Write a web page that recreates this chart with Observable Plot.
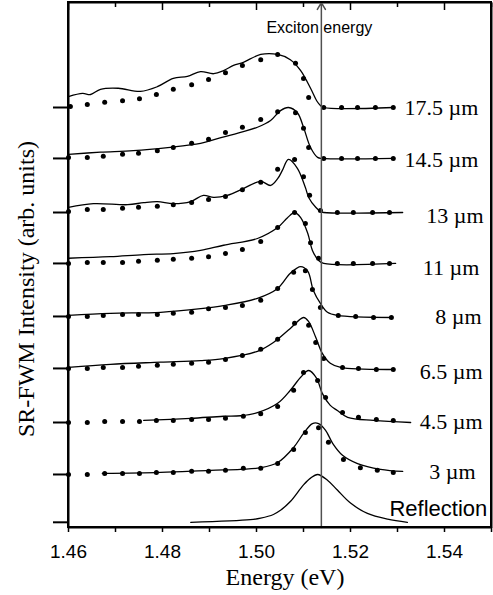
<!DOCTYPE html>
<html><head><meta charset="utf-8">
<script src="https://cdn.jsdelivr.net/npm/d3@7"></script>
<script src="https://cdn.jsdelivr.net/npm/@observablehq/plot@0.6"></script>
<style>body{margin:0;background:#fff} #chart{position:relative;width:493px;height:595px} #frameBox{position:absolute;box-sizing:border-box;border:2px solid #000;pointer-events:none}</style>
</head><body><div id="chart"></div>
<script>
// ---- data (energy in eV, intensity in arb. units above each curve's baseline) ----
const seriesNames = ["Reflection", "3 µm", "4.5 µm", "6.5 µm", "8 µm", "11 µm", "13 µm", "14.5 µm", "17.5 µm"];
const offsets = [0, 0.92, 1.92, 2.96, 3.96, 4.98, 5.96, 7.0, 7.98];
const labelX = [1.5491, 1.5466, 1.5481, 1.5481, 1.5479, 1.5474, 1.5483, 1.5472, 1.5472];
const labelY = [0.25, 0.96, 1.94, 2.9, 3.96, 4.9, 5.9, 6.98, 7.98];
const excitonEnergy = 1.5138;
const xMajorTicks = [1.46, 1.48, 1.50, 1.52, 1.54];
const xMinorTicks = [1.47, 1.49, 1.51, 1.53, 1.55];

// Reflection (solid only)
const lineE_R = [1.4860,1.4987,1.5009,1.5036,1.5051,1.5072,1.5100,1.5115,1.5130,1.5151,1.5172,1.5200,1.5236,1.5279,1.5321];
const lineI_R = [0,0.05,0.08,0.15,0.23,0.40,0.72,0.85,0.92,0.81,0.62,0.37,0.17,0.06,0];

// 3 µm
const lineE_3 = [1.4672,1.4796,1.4902,1.4966,1.5009,1.5045,1.5079,1.5100,1.5119,1.5132,1.5147,1.5162,1.5183,1.5215,1.5264,1.5311];
const lineI_3 = [0.02,0.04,0.08,0.10,0.13,0.23,0.52,0.79,0.98,0.98,0.85,0.60,0.37,0.21,0.10,0.06];
const dotE_3 = [1.4600,1.4640,1.4677,1.4715,1.4751,1.4787,1.4823,1.4862,1.4898,1.4934,1.4972,1.5009,1.5045,1.5079,1.5104,1.5132,1.5153,1.5185,1.5221,1.5257,1.5291];
const dotI_3 = [0,0,0.02,0.02,0.02,0.04,0.04,0.06,0.06,0.08,0.12,0.12,0.21,0.48,0.81,0.90,0.62,0.29,0.13,0.08,0.04];

// 4.5 µm
const lineE_45 = [1.4760,1.4860,1.4930,1.4966,1.5002,1.5045,1.5072,1.5094,1.5111,1.5128,1.5140,1.5157,1.5172,1.5194,1.5249,1.5328];
const lineI_45 = [0.04,0.08,0.12,0.13,0.19,0.37,0.62,0.87,1.0,0.85,0.56,0.33,0.23,0.10,0.04,0];
const dotE_45 = [1.4600,1.4640,1.4677,1.4715,1.4751,1.4787,1.4823,1.4862,1.4898,1.4934,1.4972,1.5009,1.5045,1.5079,1.5100,1.5130,1.5147,1.5183,1.5217,1.5255,1.5291];
const dotI_45 = [0,0,0.02,0.02,0.02,0.04,0.04,0.06,0.06,0.08,0.12,0.17,0.31,0.62,0.96,0.81,0.48,0.19,0.10,0.06,0.04];

// 6.5 µm
const lineE_65 = [1.4600,1.4689,1.4796,1.4881,1.4930,1.5002,1.5036,1.5072,1.5100,1.5111,1.5126,1.5140,1.5157,1.5179,1.5291];
const lineI_65 = [0.02,0.08,0.12,0.15,0.19,0.33,0.50,0.77,0.98,0.90,0.60,0.29,0.10,0.02,-0.02];
const dotE_65 = [1.4600,1.4640,1.4674,1.4715,1.4749,1.4789,1.4823,1.4862,1.4898,1.4934,1.4970,1.5009,1.5045,1.5081,1.5111,1.5126,1.5143,1.5183,1.5217,1.5255,1.5291];
const dotI_65 = [0,0,0.02,0.02,0.04,0.06,0.08,0.10,0.12,0.17,0.25,0.37,0.56,0.87,0.83,0.50,0.19,0.02,0,-0.02,-0.02];

// 8 µm
const lineE_8 = [1.4600,1.4689,1.4796,1.4881,1.4930,1.5002,1.5045,1.5072,1.5094,1.5109,1.5121,1.5136,1.5151,1.5172,1.5289];
const lineI_8 = [0.02,0.06,0.08,0.15,0.21,0.35,0.54,0.83,0.96,0.87,0.50,0.25,0.08,0.02,-0.02];
const dotE_8 = [1.4600,1.4640,1.4674,1.4715,1.4749,1.4789,1.4823,1.4862,1.4898,1.4934,1.4970,1.5009,1.5045,1.5079,1.5104,1.5119,1.5136,1.5174,1.5211,1.5249,1.5287];
const dotI_8 = [0,0,0.02,0.04,0.04,0.04,0.06,0.08,0.15,0.17,0.21,0.31,0.54,0.85,0.88,0.52,0.17,0.02,0,-0.02,-0.02];

// 11 µm
const lineE_11 = [1.4600,1.4689,1.4760,1.4823,1.4881,1.4930,1.5002,1.5045,1.5066,1.5081,1.5094,1.5109,1.5119,1.5132,1.5143,1.5296];
const lineI_11 = [0.10,0.13,0.17,0.19,0.25,0.35,0.48,0.69,0.88,0.98,0.88,0.58,0.25,0.06,0,0];
const dotE_11 = [1.4600,1.4640,1.4674,1.4715,1.4749,1.4789,1.4823,1.4862,1.4898,1.4934,1.4970,1.5009,1.5045,1.5081,1.5104,1.5115,1.5132,1.5172,1.5206,1.5247,1.5283];
const dotI_11 = [0,0.02,0.02,0.02,0.04,0.06,0.08,0.10,0.13,0.19,0.27,0.42,0.69,0.98,0.77,0.40,0.10,0,0,0,0];

// 13 µm
const lineE_13 = [1.4600,1.4653,1.4726,1.4760,1.4789,1.4823,1.4860,1.4887,1.4909,1.4938,1.4972,1.5009,1.5030,1.5045,1.5055,1.5068,1.5087,1.5104,1.5111,1.5126,1.5136,1.5143,1.5311];
const lineI_13 = [0.10,0.17,0.15,0.19,0.21,0.17,0.21,0.33,0.29,0.33,0.46,0.60,0.52,0.65,0.81,1.02,0.85,0.48,0.29,0.10,0.02,0,0];
const dotE_13 = [1.4600,1.4640,1.4674,1.4715,1.4749,1.4789,1.4823,1.4862,1.4898,1.4934,1.4970,1.5009,1.5045,1.5081,1.5100,1.5113,1.5136,1.5172,1.5206,1.5247,1.5283];
const dotI_13 = [0.02,0.06,0.06,0.08,0.10,0.12,0.15,0.19,0.25,0.31,0.44,0.58,0.83,1.02,0.69,0.33,0.04,0,0,0,0];

// 14.5 µm
const lineE_145 = [1.4600,1.4668,1.4738,1.4811,1.4881,1.4917,1.4966,1.5002,1.5030,1.5051,1.5068,1.5087,1.5100,1.5115,1.5130,1.5140,1.5291];
const lineI_145 = [0.08,0.12,0.15,0.21,0.29,0.38,0.50,0.60,0.73,0.92,0.98,0.88,0.60,0.21,0.02,0,0];
const dotE_145 = [1.4600,1.4640,1.4674,1.4715,1.4749,1.4789,1.4823,1.4862,1.4898,1.4934,1.4970,1.5009,1.5045,1.5083,1.5100,1.5111,1.5143,1.5181,1.5215,1.5253,1.5291];
const dotI_145 = [0.02,0.02,0.04,0.08,0.10,0.15,0.21,0.29,0.37,0.50,0.60,0.75,0.90,0.88,0.58,0.21,0,0,0,0,0];

// 17.5 µm
const lineE_175 = [1.4600,1.4630,1.4647,1.4668,1.4706,1.4753,1.4789,1.4823,1.4853,1.4881,1.4909,1.4930,1.4951,1.4972,1.5009,1.5045,1.5072,1.5094,1.5115,1.5128,1.5136,1.5143,1.5291];
const lineI_175 = [0.21,0.27,0.25,0.35,0.37,0.31,0.40,0.56,0.60,0.69,0.65,0.71,0.81,0.87,1.02,1.02,0.92,0.71,0.37,0.13,0.04,0,0];
const dotE_175 = [1.4604,1.4640,1.4677,1.4715,1.4751,1.4787,1.4823,1.4862,1.4898,1.4934,1.4970,1.5009,1.5045,1.5083,1.5100,1.5111,1.5143,1.5181,1.5215,1.5253,1.5291];
const dotI_175 = [0.02,0.06,0.10,0.13,0.17,0.25,0.35,0.44,0.54,0.67,0.81,0.92,1.02,0.85,0.56,0.19,0,0,0,0,0];

const xLabel = "Energy (eV)";
const yLabel = "SR-FWM Intensity (arb. units)";
const excitonLabel = "Exciton energy";

// ---- build tables ----
const lineSets = [[lineE_R,lineI_R],[lineE_3,lineI_3],[lineE_45,lineI_45],[lineE_65,lineI_65],[lineE_8,lineI_8],[lineE_11,lineI_11],[lineE_13,lineI_13],[lineE_145,lineI_145],[lineE_175,lineI_175]];
const dotSets = [null,[dotE_3,dotI_3],[dotE_45,dotI_45],[dotE_65,dotI_65],[dotE_8,dotI_8],[dotE_11,dotI_11],[dotE_13,dotI_13],[dotE_145,dotI_145],[dotE_175,dotI_175]];
const lineRows = [], dotRows = [];
lineSets.forEach(([E, I], k) => E.forEach((e, i) => lineRows.push({E: e, y: offsets[k] + I[i], s: seriesNames[k]})));
dotSets.forEach((d, k) => { if (!d) return; d[0].forEach((e, i) => dotRows.push({E: e, y: offsets[k] + d[1][i], s: seriesNames[k]})); });
const labelRows = seriesNames.map((n, k) => ({n, x: labelX[k], y: labelY[k]}));
const xDomain = [1.46, 1.55], yDomain = [-0.1, 10];
// frame outline as a closed path through the domain corners
const frameCorners = [
  {x: xDomain[0], y: yDomain[0]}, {x: xDomain[1], y: yDomain[0]},
  {x: xDomain[1], y: yDomain[1]}, {x: xDomain[0], y: yDomain[1]},
  {x: xDomain[0], y: yDomain[0]}
];

const serif = "'Liberation Serif', 'DejaVu Serif', serif";
const sans = "'Liberation Sans', Arial, sans-serif";

const chart = Plot.plot({
  width: 493, height: 595,
  marginLeft: 68, marginRight: 2, marginTop: 2, marginBottom: 68,
  x: {domain: xDomain},
  y: {domain: yDomain},
  marks: [
    Plot.line(frameCorners, {x: "x", y: "y", stroke: "black", strokeWidth: 2, strokeLinejoin: "miter"}),
    Plot.line(lineRows, {x: "E", y: "y", z: "s", curve: "catmull-rom", stroke: "black", strokeWidth: 1.3}),
    Plot.dot(dotRows, {x: "E", y: "y", r: 2.5, fill: "black"}),
    Plot.arrow([excitonEnergy], {x: d => d, y1: yDomain[0], y2: yDomain[1], stroke: "#505050", strokeWidth: 1.5, headLength: 8}),
    Plot.text([excitonLabel], {frameAnchor: "top", x: () => excitonEnergy, text: d => d, dy: 25, dx: -2, lineAnchor: "middle", textAnchor: "middle", fontSize: 16, fontFamily: sans, fill: "black"}),
    Plot.text(labelRows.filter(d => d.n !== "Reflection"), {x: "x", y: "y", text: "n", textAnchor: "end", fontSize: 22, fontFamily: serif, fill: "black", ariaLabel: "thickness-labels"}),
    Plot.text(labelRows.filter(d => d.n === "Reflection"), {x: "x", y: "y", text: "n", textAnchor: "end", fontSize: 22, fontFamily: sans, fill: "black"}),
    Plot.axisX({anchor: "bottom", ticks: xMajorTicks, tickSize: 5, tickPadding: 12, tickFormat: d3.format(".2f"), fontSize: 19, fontFamily: sans, label: null, strokeWidth: 1.5}),
    Plot.axisX({anchor: "bottom", ticks: xMinorTicks, tickSize: 5, tickFormat: () => "", label: null, strokeWidth: 1.5}),
    Plot.axisX({anchor: "top", ticks: xMajorTicks, tickSize: 7, dy: 7, tickFormat: () => "", label: null, strokeWidth: 1.5}),
    Plot.axisX({anchor: "top", ticks: xMinorTicks, tickSize: 4, dy: 4, tickFormat: () => "", label: null, strokeWidth: 1.5}),
    Plot.axisY({anchor: "left", ticks: offsets, tickSize: 15, tickFormat: () => "", label: null, strokeWidth: 2}),
    Plot.text([xLabel], {frameAnchor: "bottom", text: d => d, dy: 50, dx: 5, lineAnchor: "middle", textAnchor: "middle", fontSize: 24, fontFamily: serif, fill: "black"}),
    Plot.text([yLabel], {frameAnchor: "left", text: d => d, rotate: -90, dx: -42, dy: 24, lineAnchor: "middle", textAnchor: "middle", fontSize: 24, fontFamily: serif, fill: "black"})
  ]
});
const holder = document.getElementById("chart");
holder.appendChild(chart);

// fallback outline box, positioned from the chart's own scales
const sx = chart.scale("x"), sy = chart.scale("y");
const fx0 = sx.apply(xDomain[0]), fx1 = sx.apply(xDomain[1]);
const fy0 = sy.apply(yDomain[1]), fy1 = sy.apply(yDomain[0]);
const box = document.createElement("div");
box.id = "frameBox";
box.style.left = (fx0 - 1) + "px";
box.style.top = (fy0 - 1) + "px";
box.style.width = (fx1 - fx0 + 2) + "px";
box.style.height = (fy1 - fy0 + 2) + "px";
holder.appendChild(box);

// italic µ in thickness labels
d3.select(chart).selectAll("g[aria-label='thickness-labels'] text").each(function () {
  const t = this.textContent;
  const num = t.replace(" µm", "");
  const sel = d3.select(this);
  sel.text(null);
  sel.append("tspan").text(num + " ");
  sel.append("tspan").attr("font-style", "italic").text("µ");
  sel.append("tspan").text("m");
});
</script>
</body></html>
